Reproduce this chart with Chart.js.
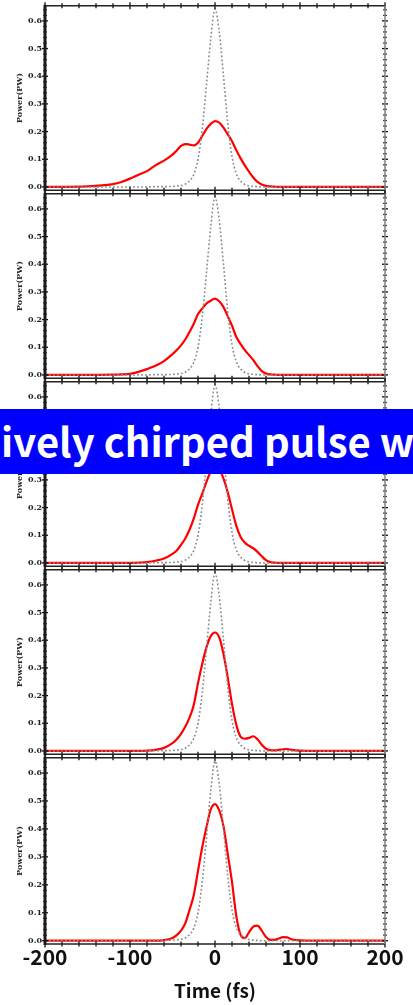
<!DOCTYPE html>
<html>
<head>
<meta charset="utf-8">
<script src="https://cdn.jsdelivr.net/npm/chart.js@4.4.0/dist/chart.umd.min.js"></script>
<style>
  body { margin: 0; background: #fff; }
  #wrap { position: relative; width: 413px; height: 1005px; overflow: hidden; background: #fff; }
  #wrap canvas { position: absolute; left: 0; z-index: 1; }
  #banner {
    position: absolute; left: 0; top: 409px; width: 413px; height: 65px; z-index: 5;
    background: #0000ff; overflow: hidden;
  }
  #banner span {
    position: absolute; left: 1px; top: 11px; white-space: nowrap;
    font: bold 40px/40px "Noto Sans CJK KR", "Noto Sans", sans-serif; color: #fff;
  }
</style>
</head>
<body>
<div id="wrap">
  <div id="banner"><span>ively chirped pulse w</span></div>
</div>
<script>
// time axis (fs)
const times = [-200, -150, -120, -110, -100, -90, -80, -70, -60, -50, -45, -40, -35, -30, -25,
  -20, -15, -10, -5, 0, 5, 10, 15, 20, 25, 30, 35, 40, 45, 50, 55, 60, 65, 70, 75, 80, 85, 90,
  100, 120, 150, 200];

// gray dotted reference pulse (same in every panel)
const refPulse = [0, 0, 0, 0, 0, 0, 0, 0.001, 0.001, 0.002, 0.003, 0.005, 0.01, 0.022, 0.045,
  0.1, 0.21, 0.37, 0.535, 0.643, 0.56, 0.4, 0.23, 0.11, 0.048, 0.022, 0.009, 0.004, 0.002, 0.001, 0,
  0, 0, 0, 0, 0, 0, 0, 0, 0, 0, 0];

// red pulses, top panel to bottom panel (PW)
const pulse1 = [0, 0.002, 0.01, 0.018, 0.03, 0.044, 0.057, 0.078, 0.095, 0.117, 0.132, 0.148, 0.155, 0.153, 0.15,
  0.16, 0.184, 0.21, 0.228, 0.238, 0.232, 0.214, 0.19, 0.165, 0.133, 0.104, 0.078, 0.055, 0.034, 0.018, 0.009,
  0.004, 0.002, 0.001, 0, 0, 0, 0, 0, 0, 0, 0];
const pulse2 = [0, 0, 0.001, 0.002, 0.004, 0.011, 0.021, 0.033, 0.05, 0.075, 0.09, 0.107, 0.128, 0.155, 0.185,
  0.22, 0.24, 0.258, 0.268, 0.276, 0.266, 0.245, 0.212, 0.178, 0.138, 0.112, 0.09, 0.072, 0.054, 0.032, 0.014,
  0.005, 0.002, 0.001, 0, 0, 0, 0, 0, 0, 0, 0];
const pulse3 = [0, 0, 0, 0, 0, 0.001, 0.003, 0.008, 0.016, 0.033, 0.045, 0.065, 0.088, 0.12, 0.16,
  0.21, 0.25, 0.293, 0.33, 0.352, 0.338, 0.305, 0.255, 0.194, 0.135, 0.095, 0.074, 0.062, 0.053, 0.04, 0.024,
  0.01, 0.003, 0.001, 0, 0, 0, 0, 0, 0, 0, 0];
const pulse4 = [0, 0, 0, 0, 0, 0, 0.001, 0.004, 0.011, 0.028, 0.042, 0.062, 0.087, 0.12, 0.166,
  0.245, 0.315, 0.375, 0.415, 0.428, 0.41, 0.35, 0.265, 0.17, 0.095, 0.052, 0.044, 0.047, 0.053, 0.042, 0.022,
  0.008, 0.003, 0.002, 0.004, 0.006, 0.007, 0.004, 0.001, 0, 0, 0];
const pulse5 = [0, 0, 0, 0, 0, 0, 0, 0, 0.002, 0.01, 0.02, 0.036, 0.062, 0.11, 0.163,
  0.25, 0.335, 0.407, 0.47, 0.489, 0.466, 0.41, 0.31, 0.21, 0.09, 0.022, 0.009, 0.03, 0.05, 0.054, 0.036,
  0.013, 0.003, 0.003, 0.008, 0.013, 0.012, 0.005, 0.001, 0, 0, 0];

const pulses = [pulse1, pulse2, pulse3, pulse4, pulse5];
const yTicks = [0, 0.1, 0.2, 0.3, 0.4, 0.5, 0.6];
const xTicks = [-200, -100, 0, 100, 200];

// frame + small ticks crossing every border
const framePlugin = {
  id: 'frame',
  afterDatasetsDraw(chart) {
    const { ctx, chartArea: a, scales: { x, y } } = chart;
    ctx.save();
    function seg(x1, y1, x2, y2) { ctx.beginPath(); ctx.moveTo(x1, y1); ctx.lineTo(x2, y2); ctx.stroke(); }
    ctx.strokeStyle = '#111';
    ctx.lineWidth = 1.3;
    for (let t = -200; t <= 200; t += 20) {
      const px = x.getPixelForValue(t);
      const len = t % 100 === 0 ? 3.5 : 2.5;
      seg(px, a.bottom - len, px, a.bottom + len);
      seg(px, a.top - len, px, a.top + len);
    }
    for (let k = 0; k <= 32; k++) {
      const py = y.getPixelForValue(k * 0.02);
      const len = k % 5 === 0 ? 3 : 1.8;
      seg(a.left - len, py, a.left + len, py);
      seg(a.right - len, py, a.right + len, py);
    }
    ctx.strokeStyle = '#222';
    ctx.lineWidth = 1.6;
    seg(a.left, a.top, a.right, a.top);
    seg(a.left, a.bottom, a.right, a.bottom);
    ctx.strokeStyle = '#888';
    seg(a.right, a.top, a.right, a.bottom);
    ctx.strokeStyle = '#1a1a1a';
    ctx.lineWidth = 3;
    seg(a.left, a.top - 1, a.left, a.bottom + 1);
    ctx.restore();
  }
};

const wrap = document.getElementById('wrap');
const panelH = 188;

pulses.forEach((vals, i) => {
  const last = i === pulses.length - 1;
  const top = 4 + i * panelH;
  const canvas = document.createElement('canvas');
  const h = last ? 1005 - (top - 6) : panelH + 12;
  canvas.width = 413;
  canvas.height = h;
  canvas.style.top = (top - 6) + 'px';
  wrap.appendChild(canvas);

  new Chart(canvas, {
    type: 'line',
    data: {
      datasets: [
        {
          data: times.map((t, k) => ({ x: t, y: refPulse[k] })),
          borderColor: '#8c8c8c',
          borderWidth: 1.6,
          borderDash: [1.8, 2.2],
          pointRadius: 0,
          cubicInterpolationMode: 'monotone',
          fill: false
        },
        {
          data: times.map((t, k) => ({ x: t, y: vals[k] })),
          borderColor: '#ff0000',
          borderWidth: 2.2,
          pointRadius: 0,
          cubicInterpolationMode: 'monotone',
          fill: false
        }
      ]
    },
    options: {
      responsive: false,
      animation: false,
      devicePixelRatio: 1,
      layout: { padding: { left: 11, right: 28, top: 6, bottom: last ? 0 : 6 } },
      plugins: { legend: { display: false }, tooltip: { enabled: false } },
      scales: {
        x: {
          type: 'linear',
          min: -200,
          max: 200,
          display: last,
          afterBuildTicks: s => { s.ticks = xTicks.map(v => ({ value: v })); },
          afterFit: s => { if (last) s.height = 61; },
          grid: { display: false, drawTicks: false },
          border: { display: false },
          ticks: {
            padding: 0,
            color: '#111',
            maxRotation: 0,
            font: { family: '"Noto Sans CJK KR", "Noto Sans", sans-serif', size: 21, weight: 'bold' }
          },
          title: {
            display: true,
            text: 'Time (fs)',
            color: '#111',
            padding: { top: 3, bottom: 3 },
            font: { family: '"Noto Sans CJK KR", "Noto Sans", sans-serif', size: 19, weight: 'bold' }
          }
        },
        y: {
          min: -0.0118,
          max: 0.6545,
          afterBuildTicks: s => { s.ticks = yTicks.map(v => ({ value: v })); },
          afterFit: s => { s.width = 34; },
          grid: { display: false, drawTicks: false },
          border: { display: false },
          ticks: {
            padding: 3,
            color: '#222',
            callback: v => v.toFixed(1),
            font: { family: '"DejaVu Serif", serif', size: 8, weight: 'bold' }
          },
          title: {
            display: true,
            text: 'Power(PW)',
            color: '#222',
            padding: { top: 4, bottom: 0 },
            font: { family: '"DejaVu Serif", serif', size: 8, weight: 'bold' }
          }
        }
      }
    },
    plugins: [framePlugin]
  });
});
</script>
</body>
</html>
